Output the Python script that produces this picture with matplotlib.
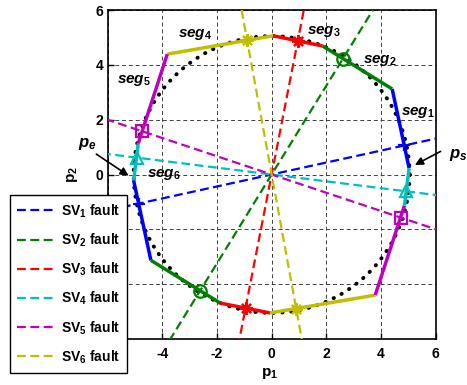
import numpy as np
import matplotlib.pyplot as plt

plt.rcParams['font.family'] = ['Liberation Sans', 'DejaVu Sans']
plt.rcParams['font.weight'] = 'bold'
plt.rcParams['mathtext.fontset'] = 'custom'
plt.rcParams['mathtext.rm'] = 'Liberation Sans:bold'
plt.rcParams['mathtext.it'] = 'Liberation Sans:italic:bold'
plt.rcParams['mathtext.bf'] = 'Liberation Sans:bold'

# boundary vertices, counter-clockwise starting at p_s
hex_x = [5.03, 4.41, 1.86, 0.05, -3.82, -4.88, -5.05, -4.42, -1.88, -0.06, 3.79, 4.86]
hex_y = [0.23, 3.12, 4.69, 5.06, 4.39, 1.14, -0.22, -3.13, -4.69, -5.05, -4.40, -1.13]

# fault lines through the origin
fault_names = ['SV$_1$ fault', 'SV$_2$ fault', 'SV$_3$ fault',
               'SV$_4$ fault', 'SV$_5$ fault', 'SV$_6$ fault']
fault_angle = [12.3, 58.3, 78.9, 172.9, 161.6, 100.4]  # degrees
fault_seg = [0, 1, 2, 5, 4, 3]  # segment each fault line crosses
circle_r = 5.05

colors = ['#0000FF', '#008000', '#FF0000', '#00BFBF', '#BF00BF', '#BFBF00']
seg_color = [colors[i] for i in [0, 1, 2, 5, 4, 3]] * 2
markers = ['+', 'o', (8, 2, 0), '^', 's', (8, 2, 0)]

seg_names = ['$seg_1$', '$seg_2$', '$seg_3$', '$seg_4$', '$seg_5$', '$seg_6$']
seg_lx = [4.72, 3.35, 1.28, -3.42, -5.67, -4.57]
seg_ly = [2.18, 4.08, 5.12, 5.00, 3.35, -0.09]

ticks = [-6, -4, -2, 0, 2, 4, 6]
# the legend box hides the lower / left tick labels
xtick_labels = ['', '-4', '-2', '0', '2', '4', '6']
ytick_labels = ['', '', '', '0', '2', '4', '6']

fig = plt.figure(figsize=(4.67, 3.85), dpi=100)
ax = fig.add_axes([0.2306, 0.1195, 0.7022, 0.8545])

ax.grid(True, color='0.25', linestyle=(0, (4, 3)), linewidth=0.7)
ax.set_axisbelow(True)

t = np.linspace(0, 2 * np.pi, 400)
ax.plot(circle_r * np.cos(t), circle_r * np.sin(t), color='k', lw=2.8,
        linestyle=(0, (0.1, 2.2)), dash_capstyle='round', zorder=2)

n = len(hex_x)
for i in range(n):
    j = (i + 1) % n
    ax.plot([hex_x[i], hex_x[j]], [hex_y[i], hex_y[j]], color=seg_color[i],
            lw=2.5, solid_capstyle='butt', zorder=3)

for k in range(6):
    a = np.deg2rad(fault_angle[k])
    u = np.array([np.cos(a), np.sin(a)])
    ax.plot([-10 * u[0], 10 * u[0]], [-10 * u[1], 10 * u[1]], color=colors[k],
            lw=1.6, linestyle=(0, (4, 2)), label=fault_names[k], zorder=4)
    for s in [fault_seg[k], fault_seg[k] + 6]:
        p = np.array([hex_x[s], hex_y[s]])
        q = np.array([hex_x[(s + 1) % n], hex_y[(s + 1) % n]])
        d = q - p
        tt = -(u[0] * p[1] - u[1] * p[0]) / (u[0] * d[1] - u[1] * d[0])
        m = p + tt * d
        ax.plot(m[0], m[1], marker=markers[k], color=colors[k], mfc='none',
                ms=9, mew=1.6, zorder=5)

for k in range(6):
    ax.text(seg_lx[k], seg_ly[k], seg_names[k], fontsize=11, ha='left', va='baseline')

ax.text(-7.08, 1.01, '$p_e$', fontsize=12, ha='left', va='baseline')
ax.annotate('', xy=(-5.15, -0.1), xytext=(-6.5, 0.8), annotation_clip=False,
            arrowprops=dict(arrowstyle='-|>', color='k', lw=1.2, mutation_scale=12))
ax.text(6.5, 0.59, '$p_s$', fontsize=12, ha='left', va='baseline')
ax.annotate('', xy=(5.15, 0.3), xytext=(6.27, 0.89), annotation_clip=False,
            arrowprops=dict(arrowstyle='-|>', color='k', lw=1.2, mutation_scale=12))

ax.set_xlim(-6, 6)
ax.set_ylim(-6, 6)
ax.set_xticks(ticks)
ax.set_yticks(ticks)
ax.set_xticklabels(xtick_labels, fontsize=10, fontweight='bold')
ax.set_yticklabels(ytick_labels, fontsize=10, fontweight='bold')
ax.tick_params(direction='in', length=4, width=1)
ax.tick_params(axis='x', pad=6)
ax.tick_params(axis='y', pad=3)
for sp in ax.spines.values():
    sp.set_linewidth(1.2)
ax.set_xlabel('p$_1$', fontsize=11, fontweight='bold')
ax.set_ylabel('p$_2$', fontsize=11, fontweight='bold')
ax.xaxis.set_label_coords(0.495, -0.083)
ax.yaxis.set_label_coords(-0.085, 0.5)

fig.legend(loc='lower left', bbox_to_anchor=(0.0214, 0.032), fontsize=10,
           frameon=True, fancybox=False, edgecolor='k', framealpha=1,
           handlelength=2.8, handletextpad=0.35, labelspacing=0.85,
           borderpad=0.5, borderaxespad=0)

fig.savefig('out.png', dpi=100)
